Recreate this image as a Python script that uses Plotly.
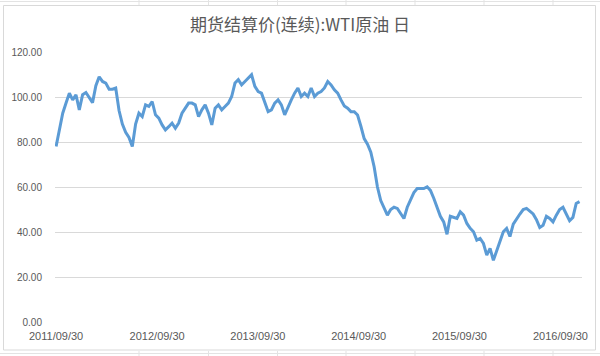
import pandas as pd
import plotly.graph_objects as go

title_text = "期货结算价(连续):WTI原油 日"

start_date = "2011-09-30"
step = "12D"

prices = [
    78, 86, 92.8, 97.3, 101.7, 98.7, 101, 94.3, 101, 102,
    99.5, 97.5, 105, 109, 106.9, 106.2, 103.5, 103.5, 104, 94,
    88, 84.3, 82, 78, 88, 92.8, 91.3, 96.5, 95.8, 98,
    92.1, 90.6, 87.6, 85.4, 86.8, 88.4, 86.1, 88.4, 92.8, 95,
    97.3, 97.3, 96.5, 91.3, 94.3, 96.5, 92.8, 87.6, 95, 96.5,
    94.3, 95.8, 97.3, 100.2, 106.2, 107.7, 105.4, 106.9, 108.4, 109.9,
    104.7, 102.4, 101.7, 98, 93.5, 94.3, 97.3, 98.7, 96.5, 92.1,
    95.8, 98.7, 101.7, 104, 100.2, 101.7, 100.2, 104, 100.2, 101.7,
    102.4, 104, 106.9, 105.4, 103.2, 101.7, 98.7, 96, 95, 93.5,
    93.5, 92, 87, 81.5, 79, 75.5, 69, 60, 54, 50.5,
    47.5, 50, 51, 50.5, 48, 46, 51, 54.5, 57.5, 59.3,
    59.3, 59.3, 60.1, 58.5, 55, 51, 47, 44.5, 39, 47,
    46.5, 46, 49, 47.5, 43.8, 41.6, 40.1, 36.4, 37.1, 34.9,
    29.7, 32.7, 27.4, 31.9, 35.6, 40.1, 41.6, 38, 43.5, 46,
    48, 50, 50.5, 49.3, 48, 45.5, 42, 43, 47, 46,
    44.5, 47.5, 50, 51, 48, 45, 46.5, 52.7, 53.5,
]

dates = pd.date_range(start=start_date, periods=len(prices), freq=step)

tick_dates = ["2011-09-30", "2012-09-30", "2013-09-30", "2014-09-30", "2015-09-30", "2016-09-30"]
tick_labels = ["2011/09/30", "2012/09/30", "2013/09/30", "2014/09/30", "2015/09/30", "2016/09/30"]

y_ticks = [0, 20, 40, 60, 80, 100, 120]

fig = go.Figure()
fig.add_trace(go.Scatter(
    x=dates, y=prices, mode="lines",
    line=dict(color="#5B9BD5", width=3),
    hoverinfo="skip",
))

W, H = 600, 356
ml, mr, mt, mb = 55, 18, 52, 34
pw = W - ml - mr
ph = H - mt - mb

def px_x(p):
    return (p - ml) / pw

def px_y(p):
    return 1 - (p - mt) / ph

shapes = []
# chart area border
shapes.append(dict(type="rect", xref="paper", yref="paper",
                   x0=px_x(3.5), x1=px_x(595.5), y0=px_y(350), y1=px_y(5.5),
                   line=dict(color="#D9D9D9", width=1), fillcolor="rgba(0,0,0,0)", layer="below"))
# spreadsheet cell lines outside chart
for yy in (1.5, 353.5):
    shapes.append(dict(type="line", xref="paper", yref="paper",
                       x0=px_x(0), x1=px_x(600), y0=px_y(yy), y1=px_y(yy),
                       line=dict(color="#E3E3E3", width=1), layer="below"))
for xx in (139, 208.5, 277.5, 346, 415, 484, 553):
    for (a, b) in ((0, 5), (351, 356)):
        shapes.append(dict(type="line", xref="paper", yref="paper",
                           x0=px_x(xx), x1=px_x(xx), y0=px_y(a), y1=px_y(b),
                           line=dict(color="#E3E3E3", width=1), layer="below"))

fig.update_layout(
    width=W, height=H,
    margin=dict(l=ml, r=mr, t=mt, b=mb),
    paper_bgcolor="white", plot_bgcolor="white",
    showlegend=False,
    title=dict(text=title_text, x=0.5, xanchor="center", y=1 - 25.5 / H, yanchor="middle",
               font=dict(family="Noto Sans CJK SC", size=17, color="#595959")),
    shapes=shapes,
    xaxis=dict(
        type="date",
        range=["2011-09-26", "2016-12-17"],
        tickmode="array", tickvals=tick_dates, ticktext=tick_labels,
        showgrid=False, zeroline=False, showline=False, ticks="",
        ticklabelstandoff=6,
        tickfont=dict(family="Liberation Sans", size=11, color="#595959"),
    ),
    yaxis=dict(
        range=[0, 120],
        tickmode="array", tickvals=y_ticks,
        tickformat=".2f",
        showgrid=True, gridcolor="#D9D9D9", gridwidth=1,
        zeroline=False, showline=False, ticks="",
        ticklabelstandoff=12,
        tickfont=dict(family="Liberation Sans", size=10, color="#595959"),
    ),
)

fig.write_html(
    "out.html",
    config={"displayModeBar": False},
    post_script="document.body.style.margin='0';document.body.style.overflow='hidden';",
)
